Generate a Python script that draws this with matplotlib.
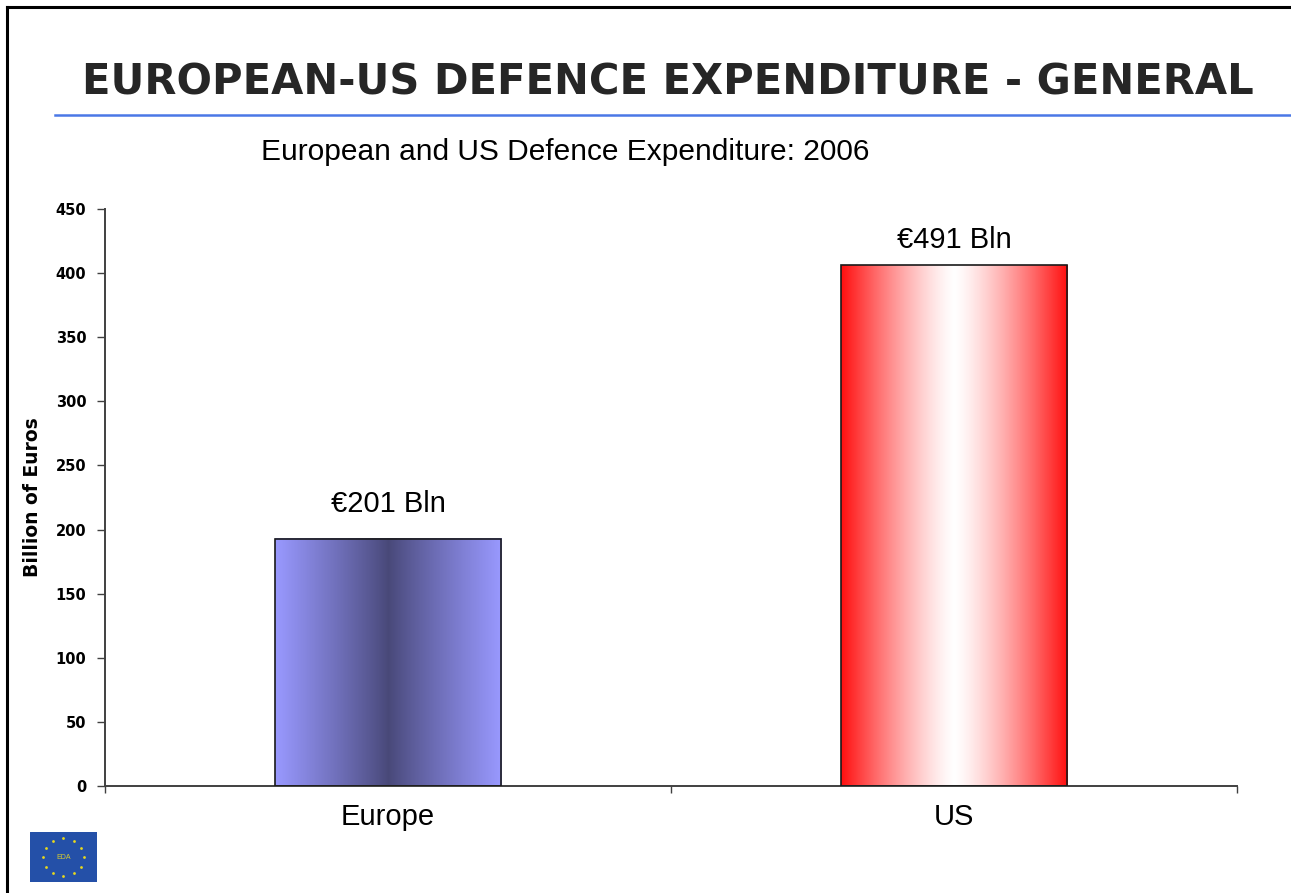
import numpy as np
import matplotlib.pyplot as plt
from matplotlib import font_manager
from matplotlib.lines import Line2D
from matplotlib.patches import Rectangle

regions = ['Europe', 'US']
spend = [193, 406]            # bar heights
spend_labels = ['€201 Bln', '€491 Bln']
label_pad = [15, 8]           # points above bar top
yticks = [0, 50, 100, 150, 200, 250, 300, 350, 400, 450]

installed = {f.name for f in font_manager.fontManager.ttflist}
plt.rcParams['font.family'] = ['Liberation Sans', 'DejaVu Sans']

fig = plt.figure(figsize=(12.91, 8.93), dpi=100)

# slide frame (left + top) and title rule
fig.add_artist(Line2D([0.0054, 0.0054], [0, 0.9925], color='black', lw=2.2))
fig.add_artist(Line2D([0.0054, 1], [0.9925, 0.9925], color='black', lw=2.2))
fig.add_artist(Line2D([0.0426, 1], [0.871, 0.871], color='#4A78E6', lw=1.8))

if 'Liberation Sans Narrow' in installed:
    fig.text(0.517, 0.910, 'EUROPEAN-US DEFENCE EXPENDITURE - GENERAL',
             family='Liberation Sans Narrow', weight='bold', size=36,
             color='#262626', ha='center', va='center')
else:
    fig.text(0.517, 0.908, 'EUROPEAN-US DEFENCE EXPENDITURE - GENERAL',
             family='DejaVu Sans', weight='bold', size=30,
             color='#262626', ha='center', va='center')

fig.text(0.438, 0.830, 'European and US Defence Expenditure: 2006',
         size=21.5, color='black', ha='center', va='center')

ax = fig.add_axes([0.0813, 0.1198, 0.8770, 0.6462])
x = np.arange(len(regions))
bars = ax.bar(x, spend, width=0.4, fill=False, edgecolor='#1a1a1a',
              linewidth=1.2, zorder=3)

# horizontal gradients inside the bars
s = np.linspace(0, 1, 256)
t = np.abs(s - 0.5) * 2
eu_edge = np.array([153, 153, 255]) / 255
eu_mid = np.array([72, 72, 120]) / 255
us_edge = np.array([255, 15, 15]) / 255
us_mid = np.array([255, 255, 255]) / 255
grads = [eu_mid + (eu_edge - eu_mid) * (t ** 0.9)[:, None],
         us_mid + (us_edge - us_mid) * (t ** 1.3)[:, None]]
for bar, g in zip(bars, grads):
    x0, w, h = bar.get_x(), bar.get_width(), bar.get_height()
    ax.imshow(g[None, :, :], extent=[x0, x0 + w, 0, h], aspect='auto',
              interpolation='bilinear', zorder=2)

for bar, lab, pad in zip(bars, spend_labels, label_pad):
    ax.annotate(lab, (bar.get_x() + bar.get_width() / 2, bar.get_height()),
                xytext=(0, pad), textcoords='offset points',
                ha='center', va='bottom', size=21)

ax.set_xlim(-0.5, 1.5)
ax.set_ylim(0, 450)
ax.set_yticks(yticks)
ax.set_yticklabels([str(v) for v in yticks], family='DejaVu Sans',
                   weight='bold', size=10.5)
ax.tick_params(axis='y', length=5.5, width=1, color='#404040', pad=8)
ax.set_xticks(x)
ax.set_xticklabels(regions, size=21)
ax.set_xticks([-0.5, 0.5, 1.5], minor=True)
ax.tick_params(axis='x', which='major', length=0, pad=12)
ax.tick_params(axis='x', which='minor', length=5, width=1, color='#404040')
for side in ['top', 'right']:
    ax.spines[side].set_visible(False)
for side in ['left', 'bottom']:
    ax.spines[side].set_color('#404040')
    ax.spines[side].set_linewidth(1.4)
ax.set_ylabel('Billion of Euros', family='DejaVu Sans', weight='bold',
              size=13.5, labelpad=10)

# EDA logo
lg = fig.add_axes([0.0232, 0.0123, 0.0519, 0.056])
lg.add_patch(Rectangle((0, 0), 1, 1, color='#2450A8'))
ang = np.linspace(0, 2 * np.pi, 13)[:-1]
lg.scatter(0.5 + 0.30 * np.cos(ang), 0.5 + 0.38 * np.sin(ang), s=4,
           color='#E8D81C', marker='o', linewidths=0)
lg.text(0.5, 0.5, 'EDA', color='#D8CC30', size=5, ha='center', va='center')
lg.set_xlim(0, 1)
lg.set_ylim(0, 1)
lg.axis('off')

fig.savefig('out.png', dpi=100)
